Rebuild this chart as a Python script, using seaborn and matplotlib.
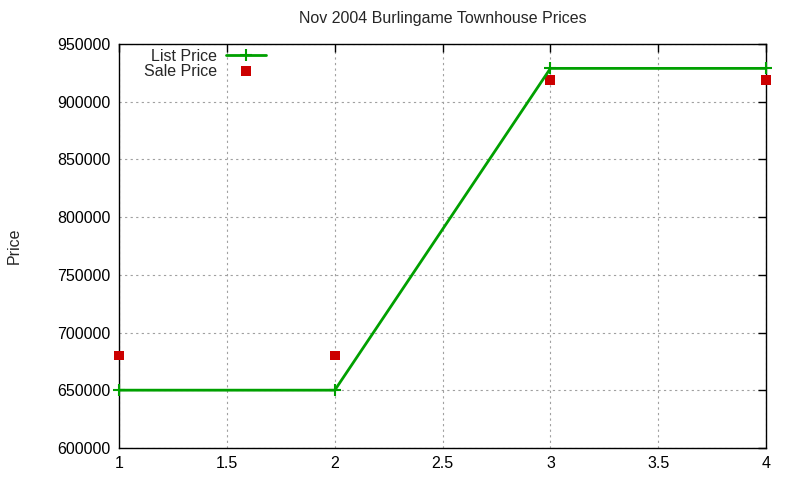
import matplotlib
matplotlib.use("Agg")
import matplotlib.pyplot as plt
import pandas as pd
import seaborn as sns

# data
house = [1, 2, 3, 4]
list_price = [650000, 650000, 929000, 929000]
sale_price = [680000, 680000, 919000, 919000]

df = pd.DataFrame({"house": house, "list": list_price, "sale": sale_price})

sns.set_theme(style="white")
plt.rcParams["font.family"] = ["Liberation Sans", "DejaVu Sans"]

fig, ax = plt.subplots(figsize=(8, 4.8), dpi=100)
fig.subplots_adjust(left=0.149, right=0.9575, top=0.908, bottom=0.067)

fs = 11.5
green = "#00a000"
sns.lineplot(data=df, x="house", y="list", ax=ax, color=green, linewidth=2,
             marker="+", markersize=9, markeredgewidth=1.5,
             markeredgecolor=green, label="List Price", clip_on=False, zorder=4)
sns.scatterplot(data=df, x="house", y="sale", ax=ax, color="#cc0000", marker="s",
                s=50, edgecolor="none", label="Sale Price", zorder=3,
                clip_on=False)

ax.set_xlim(1, 4)
ax.set_ylim(600000, 950000)
ax.set_xticks([1, 1.5, 2, 2.5, 3, 3.5, 4])
ax.set_xticklabels(["1", "1.5", "2", "2.5", "3", "3.5", "4"])
ax.set_yticks(range(600000, 950001, 50000))
ax.set_yticklabels([str(v) for v in range(600000, 950001, 50000)])
ax.grid(True, color="#a0a0a0", linestyle=(0, (2, 3)), linewidth=0.8)
ax.tick_params(direction="in", length=6, top=True, right=True, labelsize=fs,
               colors="black", pad=6, width=1)
for s in ax.spines.values():
    s.set_color("black")
    s.set_linewidth(1)

ax.set_xlabel("")
ax.set_ylabel("Price", fontsize=fs)
ax.yaxis.set_label_coords(-0.15, 0.5)
ax.set_title("Nov 2004 Burlingame Townhouse Prices", fontsize=fs, pad=15)

leg = ax.legend(loc="upper left", bbox_to_anchor=(0.028, 1.005), frameon=False,
                markerfirst=False, fontsize=fs, handlelength=2.5,
                borderaxespad=0.0, labelspacing=0.0, handletextpad=0.6)
for t in leg.get_texts():
    t.set_ha("right")
leg._legend_box.align = "right"

fig.savefig("out.png", dpi=100)
